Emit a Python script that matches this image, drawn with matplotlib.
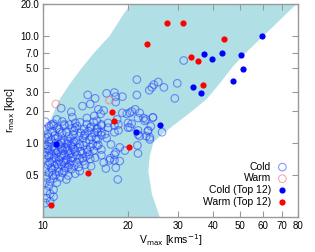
import matplotlib
matplotlib.use('Agg')
import matplotlib.pyplot as plt
import numpy as np

plt.rcParams['font.family'] = ['Liberation Sans', 'DejaVu Sans']

# allowed region (r_max, V_max) boundaries
left_r = [0.15, 1.0, 1.3, 1.7, 2.5, 3.5, 5.0, 7.0, 10.0, 15.8, 20.0, 25.0]
left_v = [7.5, 9.6, 10.1, 10.7, 11.4, 12.4, 13.7, 15.2, 17.2, 19.2, 20.5, 21.7]
right_r = [25.0, 20.0, 15.2, 10.7, 7.4, 5.2, 3.6, 2.54, 1.9, 1.44, 1.15, 1.0, 0.75, 0.54, 0.33, 0.2, 0.15]
right_v = [86.0, 79.0, 71.0, 61.9, 53.5, 47.1, 42.3, 37.9, 33.1, 28.9, 26.0, 24.6, 23.9, 23.6, 24.3, 25.9, 26.5]

# cold subhaloes (Vmax, rmax)
cold = [
    # sparse outer part
    (31.5, 5.9), (25.6, 3.7), (24.7, 3.5), (24.3, 3.3), (23.8, 3.1), (26.8, 3.3), (29.9, 3.6),
    (29.3, 2.6), (22.0, 1.9), (22.7, 1.7), (23.2, 1.65), (24.5, 1.72), (22.9, 1.6), (24.1, 1.42),
    (23.6, 1.3), (23.2, 1.15), (23.9, 1.07), (26.4, 1.25), (22.0, 1.15),
    (21.5, 3.9), (16.8, 2.9), (17.9, 2.95), (18.1, 2.7), (19.1, 2.7), (14.4, 2.8), (15.3, 2.6),
    (21.5, 2.8), (13.8, 2.2), (14.7, 2.3), (11.6, 2.1), (12.6, 1.94), (15.7, 2.05), (16.4, 2.0),
    (16.0, 1.86), (21.2, 2.05), (19.8, 1.86), (21.7, 1.7), (14.3, 1.7), (15.2, 1.78), (12.7, 1.73),
    (11.2, 1.65), (13.0, 1.53), (11.9, 1.48), (10.9, 1.44), (18.3, 1.65), (20.6, 1.5), (17.9, 1.44),
    (16.1, 1.44), (14.7, 1.38), (18.1, 2.4), (19.1, 1.9), (20.3, 1.9), (15.5, 1.6), (16.1, 1.48),
    (17.0, 1.53), (18.5, 1.48), (20.0, 1.53), (15.5, 1.33), (17.0, 1.38), (20.0, 1.38), (16.1, 1.25),
    (18.5, 1.3), (21.7, 1.3), (20.6, 1.96), (24.5, 1.72), (20.3, 1.39), (21.7, 1.19), (23.9, 1.12),
    (23.5, 1.28), (21.6, 0.94), (21.7, 0.79),
    (15.6, 1.25), (16.6, 1.2), (17.9, 1.25), (15.6, 1.07), (16.8, 1.1), (17.4, 0.96), (18.7, 0.9),
    (17.9, 0.77), (16.4, 0.65), (17.2, 0.68), (17.9, 0.68), (18.7, 0.67), (16.7, 0.57), (18.1, 0.58),
    (18.4, 0.45), (16.1, 0.86), (15.7, 0.95), (17.3, 0.71), (16.1, 0.76), (18.1, 0.81), (19.5, 0.84),
    (14.7, 0.70), (14.1, 0.62),
    # dense core
    (10.2, 1.57), (10.9, 1.50), (11.7, 1.58), (12.4, 1.47), (13.5, 1.55), (14.3, 1.49), (15.1, 1.56),
    (10.5, 1.42), (11.2, 1.37), (11.9, 1.44), (12.7, 1.36), (13.2, 1.43), (14.0, 1.34), (14.8, 1.41),
    (15.6, 1.36), (10.1, 1.31), (10.8, 1.27), (11.4, 1.33), (12.1, 1.25), (12.9, 1.29), (13.6, 1.23),
    (14.5, 1.28), (15.2, 1.24), (10.4, 1.20), (11.0, 1.16), (11.7, 1.22), (12.3, 1.14), (12.8, 1.19),
    (13.4, 1.15), (14.1, 1.21), (14.9, 1.13), (16.1, 1.17), (10.2, 1.10), (10.7, 1.06), (11.3, 1.12),
    (11.9, 1.05), (12.5, 1.09), (13.1, 1.04), (13.9, 1.10), (14.6, 1.06), (15.4, 1.09), (10.5, 1.01),
    (11.1, 0.98), (11.6, 1.02), (12.2, 0.97), (12.9, 1.01), (13.5, 0.96), (14.2, 1.00), (15.0, 0.97),
    (10.1, 0.95), (10.8, 0.92), (11.4, 0.96), (12.0, 0.90), (12.6, 0.94), (13.3, 0.90), (13.9, 0.94),
    (14.7, 0.91), (15.5, 0.93), (10.4, 0.87), (11.0, 0.85), (11.7, 0.88), (12.3, 0.84), (12.9, 0.87),
    (13.6, 0.83), (14.3, 0.86), (15.1, 0.84), (10.2, 0.81), (10.7, 0.78), (11.3, 0.82), (11.9, 0.77),
    (12.5, 0.80), (13.2, 0.76), (13.8, 0.79), (14.6, 0.77), (10.5, 0.74), (11.1, 0.72), (11.6, 0.75),
    (12.2, 0.70), (12.8, 0.73), (13.5, 0.71), (14.2, 0.74), (15.3, 0.72), (10.1, 0.69), (10.8, 0.66),
    (11.4, 0.68), (12.0, 0.64), (12.6, 0.67), (13.2, 0.65), (13.9, 0.67), (10.4, 0.62), (11.0, 0.60),
    (11.6, 0.62), (12.3, 0.59), (12.9, 0.61), (14.8, 0.60), (10.2, 0.57), (10.8, 0.55), (11.3, 0.57),
    (11.9, 0.54), (12.6, 0.56), (13.5, 0.54), (10.5, 0.52), (11.1, 0.50), (11.7, 0.52), (12.3, 0.49),
    (13.0, 0.51), (10.3, 0.47), (10.9, 0.46), (11.5, 0.47), (12.1, 0.45), (10.6, 0.43), (11.2, 0.42),
    (10.2, 0.42),
    (10.45, 1.13), (11.05, 1.08), (11.65, 0.99), (12.25, 1.03), (12.75, 0.98), (10.35, 0.93),
    (10.95, 0.88), (11.55, 0.91), (12.15, 0.86), (12.75, 0.90), (10.55, 0.84), (11.15, 0.79),
    (11.75, 0.84), (12.35, 0.77), (13.0, 0.82), (10.35, 0.76), (10.95, 0.71), (11.45, 0.73),
    (12.05, 0.68), (12.6, 0.72), (10.55, 0.65), (11.2, 0.63), (11.8, 0.66), (12.4, 0.62),
    (10.7, 0.58), (11.4, 0.53), (12.0, 0.58), (10.8, 0.49), (13.4, 0.59), (13.8, 0.71),
    (14.4, 0.82), (14.0, 1.17), (13.0, 1.38), (11.5, 1.25), (10.7, 1.47),
    # low tail
    (10.5, 0.39), (10.9, 0.36), (10.3, 0.35), (10.6, 0.33), (10.9, 0.31), (10.3, 0.30), (10.6, 0.28),
    (10.2, 0.27),
]
warm = [(11.1, 2.3), (17.2, 2.5)]

cold_top_v = [59.8, 37.3, 39.7, 43.0, 50.3, 51.2, 47.2, 34.0, 36.3, 26.0, 11.1, 21.3]
cold_top_r = [10.1, 6.75, 6.1, 7.0, 6.7, 4.9, 3.8, 3.3, 2.9, 1.45, 0.96, 1.26]
warm_top_v = [27.5, 31.3, 23.3, 43.6, 33.3, 35.5, 37.0, 17.6, 17.9, 14.4, 10.7, 20.2]
warm_top_r = [13.4, 13.4, 8.5, 9.4, 6.4, 5.8, 3.45, 1.95, 1.6, 0.52, 0.26, 0.91]

xticks = [10, 20, 30, 40, 50, 60, 70, 80]
yticks = [0.5, 1.0, 2.0, 3.0, 5.0, 7.0, 10.0, 20.0]

fig = plt.figure(figsize=(3.15, 2.52), dpi=100)
ax = fig.add_axes([0.1365, 0.139, 0.8095, 0.845])
ax.set_xscale('log')
ax.set_yscale('log')

ax.fill(left_v + right_v, left_r + right_r, color='#b0dfe5', lw=0, zorder=0)

ax.scatter([p[0] for p in cold], [p[1] for p in cold], s=30, facecolors='none',
           edgecolors=(0.15, 0.25, 1.0, 0.55), linewidths=0.8, label='Cold', zorder=2)
ax.scatter([p[0] for p in warm], [p[1] for p in warm], s=30, facecolors='none',
           edgecolors=(0.95, 0.45, 0.45, 0.6), linewidths=0.8, label='Warm', zorder=2)
ax.scatter(cold_top_v, cold_top_r, s=20, color='#0000ff', lw=0, label='Cold (Top 12)', zorder=3)
ax.scatter(warm_top_v, warm_top_r, s=20, color='#ff0000', lw=0, label='Warm (Top 12)', zorder=3)

ax.set_xlim(10, 80)
ax.set_ylim(0.2, 20)
ax.xaxis.set_major_locator(matplotlib.ticker.FixedLocator(xticks))
ax.xaxis.set_minor_locator(matplotlib.ticker.NullLocator())
ax.yaxis.set_major_locator(matplotlib.ticker.FixedLocator(yticks))
ax.yaxis.set_minor_locator(matplotlib.ticker.NullLocator())
ax.set_xticklabels([str(t) for t in xticks])
ax.set_yticklabels(['%.1f' % t for t in yticks])
ax.tick_params(which='both', direction='in', top=True, right=True, length=4, width=0.8,
               color='#999999', labelsize=7, pad=3)
for s in ax.spines.values():
    s.set_color('#999999')
    s.set_linewidth(1.0)

ax.set_xlabel(r'V$_{\rm max}$ [kms$^{-1}$]', fontsize=7.5, labelpad=1)
ax.set_ylabel(r'r$_{\rm max}$ [kpc]', fontsize=7.5, labelpad=2)

ax.legend(loc='lower right', frameon=False, markerfirst=False, fontsize=7.5,
          handletextpad=0.6, labelspacing=0.15, borderaxespad=0.6, handlelength=1.0)

fig.savefig('out.png', dpi=100)
